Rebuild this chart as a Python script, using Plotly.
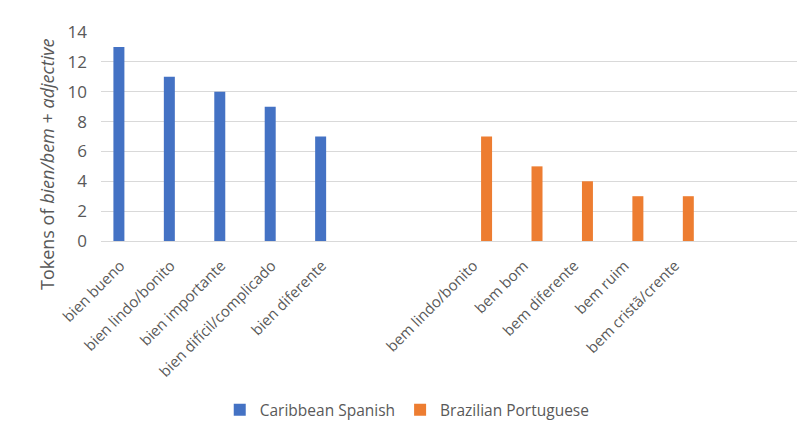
import plotly.graph_objects as go

spanish_labels = ["bien bueno", "bien lindo/bonito", "bien importante",
                  "bien difícil/complicado", "bien diferente"]
spanish_values = [13, 11, 10, 9, 7]
portuguese_labels = ["bem lindo/bonito", "bem bom", "bem diferente",
                     "bem ruim", "bem cristã/crente"]
portuguese_values = [7, 5, 4, 3, 3]
spacer_labels = [" ", "  "]
y_ticks = [0, 2, 4, 6, 8, 10, 12, 14]

categories = spanish_labels + spacer_labels + portuguese_labels

FONT = "Open Sans"
GREY = "#595959"
BAR_W = 0.218

fig = go.Figure()
fig.add_trace(go.Bar(name="Caribbean Spanish", x=spanish_labels, y=spanish_values,
                     width=BAR_W, offset=-0.145 - BAR_W / 2,
                     marker=dict(color="#4472C4", line=dict(width=0))))
fig.add_trace(go.Bar(name="Brazilian Portuguese", x=portuguese_labels, y=portuguese_values,
                     width=BAR_W, offset=0.145 - BAR_W / 2,
                     marker=dict(color="#ED7D31", line=dict(width=0))))

fig.update_layout(
    width=797, height=443,
    margin=dict(l=101, r=0, t=32, b=202, autoexpand=False),
    paper_bgcolor="white", plot_bgcolor="white",
    barmode="overlay",
    font=dict(family=FONT, color=GREY, size=14),
    showlegend=True,
    legend=dict(orientation="h", x=0.44, xanchor="center", y=-0.809, yanchor="middle",
                font=dict(family=FONT, size=15.5, color=GREY)),
    xaxis=dict(type="category", categoryorder="array", categoryarray=categories,
               range=[-0.5, 13.3], tickangle=-45, showgrid=False, showline=False,
               ticks="", ticklabelstandoff=12, ticklabelshift=-6,
               tickfont=dict(family=FONT, size=15, color=GREY)),
    yaxis=dict(range=[0, 14], tickvals=y_ticks, showgrid=True, gridcolor="#D9D9D9",
               gridwidth=1, zeroline=True, zerolinecolor="#D9D9D9", zerolinewidth=1,
               showline=False, ticks="", ticklabelstandoff=13,
               tickfont=dict(family=FONT, size=17, color=GREY)),
)

fig.add_annotation(
    text="Tokens of <i>bien/bem</i> + <i>adjective</i>",
    xref="paper", yref="paper", x=(47 - 101) / 696, y=(241 - 165) / 209,
    xanchor="center", yanchor="middle", textangle=-90, showarrow=False,
    font=dict(family=FONT, size=18, color=GREY),
)

fig.write_html("out.html")
